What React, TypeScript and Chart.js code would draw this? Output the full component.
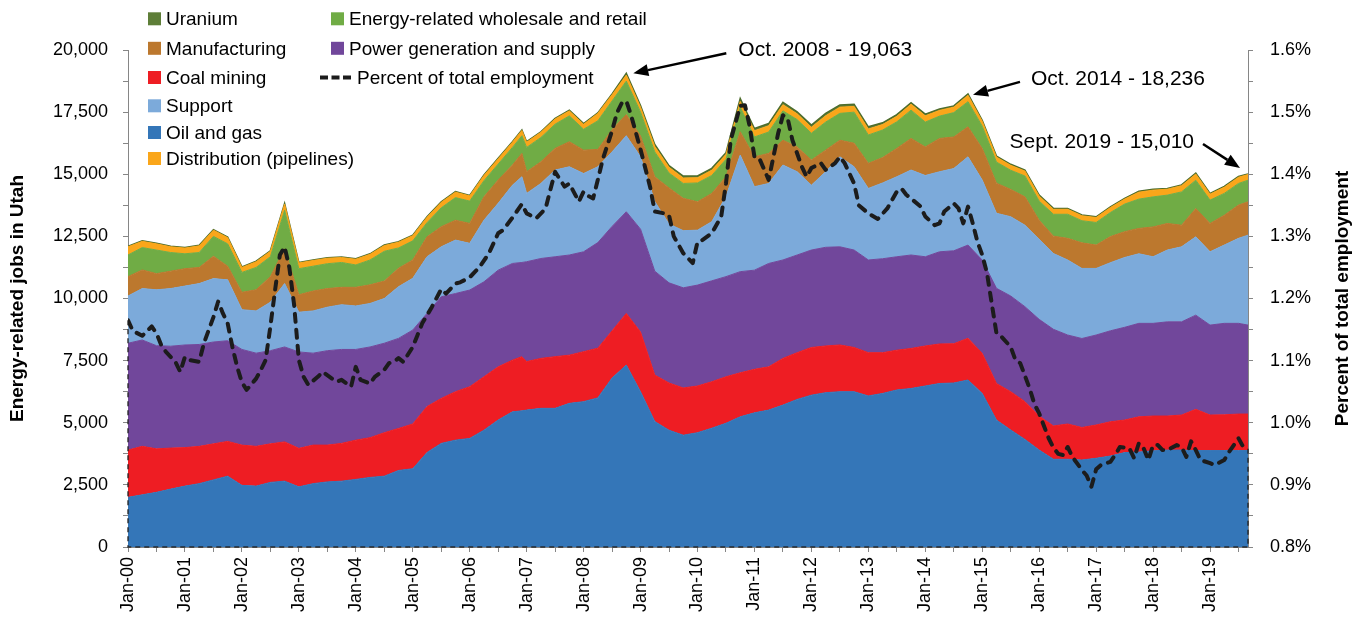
import React, { useEffect, useRef } from "react";
import { Chart, registerables } from "chart.js";

Chart.register(...registerables);

const FONT = '"Liberation Sans", Arial, sans-serif';

// Month index: 0 = Jan 2000, 236 = Sept 2019
const months = [
  0, 3, 6, 9, 12, 15, 18, 21, 24, 27, 30, 33, 36, 39, 42, 45, 48, 51, 54, 57,
  60, 63, 66, 69, 72, 75, 78, 81, 83, 84,
  87, 90, 93, 96, 99, 102, 105, 108, 111, 114,
  117, 120, 123, 126, 129, 132, 135, 138, 141, 144,
  147, 150, 153, 156, 159, 162, 165, 168, 171, 174,
  177, 180, 183, 186, 189, 192, 195, 198, 201, 204,
  207, 210, 213, 216, 219, 222, 225, 228, 231, 234,
  236,
];

const oilGas = [
  2000, 2100, 2200, 2330, 2450, 2550, 2700, 2850, 2480, 2450, 2600, 2650, 2420, 2550, 2620, 2650, 2720, 2800, 2850, 3080,
  3150, 3800, 4170, 4300, 4370, 4700, 5110, 5440, 5480, 5510,
  5580, 5580, 5780, 5850, 6000, 6800, 7320, 6250, 5050, 4700,
  4500, 4600, 4780, 4980, 5240, 5400, 5510, 5710, 5940, 6110,
  6210, 6250, 6250, 6080, 6180, 6320, 6380, 6480, 6580, 6600,
  6720, 6180, 5110, 4710, 4330, 3900, 3530, 3530, 3500, 3570,
  3660, 3800, 3820, 3870, 3900, 3900, 3880, 3880, 3880, 3880,
  3880,
];

const coalMining = [
  1900, 1950, 1750, 1650, 1550, 1500, 1450, 1400, 1620, 1600, 1550, 1580, 1550, 1550, 1480, 1520, 1580, 1600, 1750, 1690,
  1800, 1850, 1810, 1950, 2080, 2150, 2140, 2080, 2180, 1950,
  2010, 2080, 1940, 2010, 2000, 1900, 2080, 2400, 1870, 1900,
  1900, 1880, 1870, 1870, 1770, 1750, 1740, 1880, 1880, 1920,
  1880, 1880, 1780, 1740, 1640, 1600, 1610, 1610, 1590, 1580,
  1680, 1610, 1470, 1540, 1520, 1370, 1340, 1420, 1310, 1340,
  1380, 1310, 1420, 1400, 1370, 1410, 1660, 1430, 1440, 1470,
  1470,
];

const powerGeneration = [
  4300, 4280, 4150, 4100, 4130, 4100, 4100, 4050, 3850, 3750, 3750, 3820, 3880, 3700, 3800, 3780, 3650, 3650, 3600, 3625,
  3780, 3750, 4090, 3950, 3890, 3820, 3890, 3890, 3790, 4020,
  4020, 4020, 4030, 4020, 4250, 4200, 4090, 4140, 4180, 4030,
  4030, 4060, 4060, 4030, 4070, 3990, 4160, 3960, 3930, 3920,
  3970, 3950, 3920, 3730, 3780, 3760, 3760, 3590, 3710, 3740,
  3750, 3755, 3830, 3850, 3820, 3890, 3890, 3580, 3580, 3620,
  3660, 3730, 3760, 3730, 3790, 3750, 3790, 3620, 3680, 3650,
  3580,
];

const supportJobs = [
  1900, 2070, 2250, 2320, 2370, 2450, 2550, 2450, 1600, 1700, 1950, 2550, 1600, 1700, 1750, 1800, 1750, 1750, 1800, 2080,
  2080, 2280, 2010, 2150, 1880, 2480, 2690, 3150, 3450, 2750,
  3020, 3490, 3550, 3150, 3050, 3000, 3060, 2910, 2800, 2370,
  2300, 2210, 2380, 3220, 4690, 3360, 3220, 3820, 3350, 2610,
  3040, 3620, 3350, 2880, 3050, 3220, 3420, 3270, 3220, 3310,
  3550, 3220, 3020, 3190, 3280, 3220, 3050, 3020, 2820, 2680,
  2740, 2810, 2800, 2680, 2890, 3020, 3150, 2950, 3150, 3420,
  3620,
];

const manufacturing = [
  780, 750, 650, 700, 700, 650, 900, 550, 700, 850, 1030, 1400, 700, 800, 750, 700, 750, 750, 700, 740,
  740, 800, 810, 800, 800, 940, 940, 810, 940, 870,
  870, 870, 1010, 940, 700, 900, 850, 840, 1000, 1450,
  1300, 1140, 1140, 800, 940, 1200, 1210, 1000, 1000, 1010,
  870, 670, 950, 1010, 1020, 1140, 1270, 1150, 1340, 1270,
  1210, 1270, 1210, 1100, 1140, 770, 700, 870, 1030, 940,
  1050, 1040, 1020, 1200, 1070, 870, 1140, 1140, 1200, 1340,
  1340,
];

const wholesaleRetail = [
  870, 900, 950, 750, 600, 600, 800, 900, 800, 900, 800, 1550, 1050, 1000, 1000, 1000, 900, 1000, 1200, 820,
  770, 570, 760, 910, 900, 650, 640, 710, 710, 980,
  980, 975, 1040, 840, 1150, 1150, 1350, 960, 1000, 600,
  600, 760, 720, 700, 990, 800, 860, 1180, 1100, 1080,
  1130, 1080, 1250, 1140, 1110, 1070, 1140, 1000, 900, 980,
  1010, 900, 850, 770, 840, 770, 880, 970, 890, 910,
  970, 1110, 1180, 1210, 1140, 1340, 1140, 940, 880, 870,
  870,
];

const distribution = [
  330, 250, 250, 230, 230, 270, 250, 250, 200, 230, 220, 250, 230, 230, 220, 200, 230, 230, 230, 230,
  210, 220, 220, 220, 210, 210, 210, 210, 210, 210,
  210, 210, 200, 200, 300, 250, 240, 200, 220, 230,
  220, 210, 210, 200, 230, 250, 250, 250, 230, 240,
  250, 250, 230, 240, 220, 220, 240, 250, 230, 220,
  260, 200, 200, 200, 200, 200, 200, 200, 200, 200,
  200, 200, 280, 270, 240, 250, 250, 240, 250, 250,
  230,
];

const uranium = [
  20, 20, 20, 20, 20, 20, 20, 20, 20, 20, 20, 30, 20, 20, 20, 20, 20, 20, 20, 20,
  20, 20, 20, 20, 20, 20, 20, 20, 20, 20,
  20, 20, 30, 30, 20, 30, 73, 70, 80, 70,
  80, 70, 80, 70, 120, 90, 90, 100, 80, 90,
  100, 90, 90, 90, 70, 70, 60, 70, 60, 50,
  56, 40, 40, 40, 40, 40, 35, 35, 30, 30,
  30, 30, 40, 40, 30, 30, 40, 30, 30, 30,
  20,
];

// Percent of total employment (right axis)
const pctMonths = [
  0, 1, 3, 5, 6, 7, 8, 10, 11, 12, 13, 15, 16, 18, 19, 20, 21, 22, 23, 24,
  25, 27, 28, 29, 30, 31, 32, 33, 34, 35, 36, 37, 38, 40, 41, 43, 44, 45, 47, 48,
  49, 51, 52, 54, 55, 56, 57, 58, 60, 61, 62, 64, 66, 67, 69, 70, 72, 74, 76, 78,
  79, 81, 83, 84, 86, 88, 89, 90, 91, 92, 93, 95, 96, 97, 98, 99, 100, 102, 103, 104,
  105, 106, 108, 110, 111, 113, 114, 115, 117, 119, 120, 121, 123, 125, 126, 127, 129, 130, 131, 132,
  133, 135, 136, 137, 138, 139, 140, 142, 143, 144, 146, 147, 149, 150, 151, 153, 154, 156, 158, 160,
  162, 163, 164, 165, 167, 168, 170, 171, 172, 174, 175, 176, 177, 178, 179, 180, 181, 182, 183, 184,
  186, 187, 188, 190, 191, 192, 194, 195, 196, 197, 198, 199, 201, 202, 203, 204, 205, 207, 208, 209,
  210, 211, 212, 213, 214, 215, 216, 217, 218, 219, 221, 222, 223, 224, 225, 226, 228, 229, 231, 232,
  234, 235, 236,
];

const pctValues = [
  1.165, 1.148, 1.14, 1.155, 1.144, 1.125, 1.114, 1.098, 1.082, 1.106, 1.101, 1.098, 1.128, 1.17, 1.195, 1.176, 1.16, 1.122, 1.09, 1.065,
  1.053, 1.071, 1.085, 1.101, 1.155, 1.214, 1.27, 1.283, 1.25, 1.19, 1.101, 1.074, 1.061, 1.074, 1.082, 1.071, 1.066, 1.069, 1.058, 1.09,
  1.069, 1.063, 1.074, 1.085, 1.096, 1.098, 1.104, 1.098, 1.122, 1.141, 1.16, 1.186, 1.215, 1.208, 1.224, 1.226, 1.234, 1.25, 1.272, 1.305,
  1.31, 1.33, 1.352, 1.337, 1.329, 1.345, 1.375, 1.404, 1.392, 1.38, 1.385, 1.356, 1.372, 1.365, 1.361, 1.391, 1.423, 1.47, 1.498, 1.514,
  1.518, 1.495, 1.44, 1.38, 1.34, 1.337, 1.334, 1.3, 1.273, 1.257, 1.291, 1.294, 1.305, 1.332, 1.385, 1.455, 1.51, 1.511, 1.477, 1.428,
  1.426, 1.391, 1.428, 1.466, 1.495, 1.49, 1.455, 1.412, 1.396, 1.41, 1.418, 1.407, 1.418, 1.428, 1.418, 1.385, 1.35, 1.337, 1.328, 1.345,
  1.372, 1.377, 1.367, 1.361, 1.348, 1.332, 1.318, 1.321, 1.34, 1.353, 1.345, 1.321, 1.348, 1.321, 1.291, 1.27, 1.241, 1.192, 1.144, 1.139,
  1.122, 1.101, 1.096, 1.055, 1.03, 1.015, 0.975, 0.96, 0.95, 0.948, 0.961, 0.945, 0.924, 0.915, 0.897, 0.925, 0.932, 0.937, 0.948, 0.961,
  0.96, 0.959, 0.943, 0.967, 0.959, 0.94, 0.964, 0.964, 0.956, 0.956, 0.964, 0.961, 0.945, 0.97, 0.956, 0.94, 0.935, 0.932, 0.94, 0.953,
  0.975, 0.961, 0.958,
];

const yearLabels = [
  "Jan-00", "Jan-01", "Jan-02", "Jan-03", "Jan-04", "Jan-05", "Jan-06", "Jan-07", "Jan-08", "Jan-09",
  "Jan-10", "Jan-11", "Jan-12", "Jan-13", "Jan-14", "Jan-15", "Jan-16", "Jan-17", "Jan-18", "Jan-19",
];

const annotationMonths = [105, 177, 236];
const annotationValues = [19063, 18236, 15010];
const annotationTexts = ["Oct. 2008 - 19,063", "Oct. 2014 - 18,236", "Sept. 2019 - 15,010"];

const COLORS = {
  oil: "#3476B8",
  coal: "#EE1D23",
  power: "#71479B",
  support: "#7CAADA",
  manuf: "#BC782E",
  wholesale: "#70AC45",
  dist: "#FAA61A",
  uranium: "#5E7E38",
  axis: "#868686",
};

const PCT_DASH = [8, 8];

// layout of annotations (offsets relative to the data point pixel)
const annotationLayout = [
  { tip: [7, 0], tail: [100, -20], text: [112, -23], align: "left" as CanvasTextAlign },
  { tip: [5, 1], tail: [52, -12], text: [63, -15], align: "left" as CanvasTextAlign },
  { tip: [-8, -6], tail: [-45, -30], text: [-54, -32], align: "right" as CanvasTextAlign },
];

// legend layout: dataset index per column/row
const legendCols = [
  { x: 148, items: [7, 4, 1, 3, 0, 6] },
  { x: 331, items: [5, 2, 8] },
];
const legendRows = [18.8, 48.3, 77.5, 105.8, 132.5, 158.5];

function drawArrow(ctx: CanvasRenderingContext2D, x0: number, y0: number, x1: number, y1: number) {
  const ang = Math.atan2(y1 - y0, x1 - x0);
  const head = 15;
  const half = 6;
  const bx = x1 - head * Math.cos(ang);
  const by = y1 - head * Math.sin(ang);
  ctx.beginPath();
  ctx.moveTo(x0, y0);
  ctx.lineTo(bx, by);
  ctx.lineWidth = 2.5;
  ctx.stroke();
  ctx.beginPath();
  ctx.moveTo(x1, y1);
  ctx.lineTo(bx - half * Math.sin(ang), by + half * Math.cos(ang));
  ctx.lineTo(bx + half * Math.sin(ang), by - half * Math.cos(ang));
  ctx.closePath();
  ctx.fill();
}

const overlayPlugin = {
  id: "overlays",
  afterDatasetsDraw(chart: any) {
    const { ctx, scales } = chart;
    const xs = scales.x;
    const y1 = scales.y1;
    const pts = chart.data.datasets[8].data;
    const first = pts[0];
    const last = pts[pts.length - 1];
    const xa = xs.getPixelForValue(first.x);
    const ya = y1.getPixelForValue(first.y);
    const xb = xs.getPixelForValue(last.x);
    const yb = y1.getPixelForValue(last.y);
    const base = y1.getPixelForValue(y1.min);
    ctx.save();
    ctx.strokeStyle = "rgba(30,30,30,0.85)";
    ctx.lineWidth = 1.5;
    ctx.setLineDash([5, 4]);
    ctx.beginPath();
    ctx.moveTo(xa, ya);
    ctx.lineTo(xa, base);
    ctx.lineTo(xb, base);
    ctx.lineTo(xb, yb);
    ctx.stroke();
    ctx.restore();
  },
  afterDraw(chart: any) {
    const { ctx, scales, chartArea } = chart;
    const xs = scales.x;
    const ys = scales.y;
    ctx.save();

    // legend
    ctx.font = `19px ${FONT}`;
    ctx.textBaseline = "middle";
    ctx.textAlign = "left";
    legendCols.forEach((col) => {
      col.items.forEach((dsIndex, r) => {
        const ds = chart.data.datasets[dsIndex];
        const yc = legendRows[r];
        if (dsIndex === 8) {
          ctx.save();
          ctx.strokeStyle = ds.borderColor;
          ctx.lineWidth = 4;
          ctx.setLineDash([8, 3.5]);
          ctx.beginPath();
          ctx.moveTo(col.x - 11, yc);
          ctx.lineTo(col.x + 20, yc);
          ctx.stroke();
          ctx.restore();
          ctx.fillStyle = "#000";
          ctx.fillText(ds.label, col.x + 26, yc + 1);
        } else {
          ctx.fillStyle = ds.backgroundColor;
          ctx.fillRect(col.x, yc - 6.5, 13, 13);
          ctx.fillStyle = "#000";
          ctx.fillText(ds.label, col.x + 18, yc + 1);
        }
      });
    });

    // annotations
    ctx.font = `21px ${FONT}`;
    ctx.fillStyle = "#000";
    ctx.strokeStyle = "#000";
    annotationMonths.forEach((m, i) => {
      const px = xs.getPixelForValue(m);
      const py = ys.getPixelForValue(annotationValues[i]);
      const L = annotationLayout[i];
      drawArrow(ctx, px + L.tail[0], py + L.tail[1], px + L.tip[0], py + L.tip[1]);
      ctx.textAlign = L.align;
      ctx.textBaseline = "middle";
      ctx.fillText(annotationTexts[i], px + L.text[0], py + L.text[1]);
    });

    // axis titles
    ctx.font = `bold 19px ${FONT}`;
    ctx.textAlign = "center";
    ctx.textBaseline = "middle";
    const midY = (chartArea.top + chartArea.bottom) / 2;
    ctx.save();
    ctx.translate(18, midY);
    ctx.rotate(-Math.PI / 2);
    ctx.fillText("Energy-related jobs in Utah", 0, 0);
    ctx.restore();
    ctx.save();
    ctx.translate(1343, midY);
    ctx.rotate(-Math.PI / 2);
    ctx.fillText("Percent of total employment", 0, 0);
    ctx.restore();

    ctx.restore();
  },
};

function series(label: string, values: number[], color: string, fill: any, border?: string, bw = 1) {
  return {
    label,
    data: months.map((m, i) => ({ x: m, y: values[i] })),
    backgroundColor: color,
    borderColor: border || color,
    borderWidth: bw,
    fill,
    pointRadius: 0,
    tension: 0,
    yAxisID: "y",
    stack: "jobs",
  };
}

export default function App() {
  const ref = useRef<HTMLCanvasElement | null>(null);

  useEffect(() => {
    if (!ref.current) return;
    const tickMonths = yearLabels.flatMap((_, i) => [i * 12, i * 12 + 6]);
    const leftTicks: number[] = [];
    for (let v = 0; v <= 20000; v += 1250) leftTicks.push(v);
    const rightTicks: number[] = [];
    for (let v = 80; v <= 160; v += 5) rightTicks.push(v / 100);

    const datasets: any[] = [
      series("Oil and gas", oilGas, COLORS.oil, "origin"),
      series("Coal mining", coalMining, COLORS.coal, "-1"),
      series("Power generation and supply", powerGeneration, COLORS.power, "-1"),
      series("Support", supportJobs, COLORS.support, "-1"),
      series("Manufacturing", manufacturing, COLORS.manuf, "-1"),
      series("Energy-related wholesale and retail", wholesaleRetail, COLORS.wholesale, "-1"),
      series("Distribution (pipelines)", distribution, COLORS.dist, "-1"),
      series("Uranium", uranium, COLORS.uranium, "-1", "#4E6D2C", 1.5),
      {
        label: "Percent of total employment",
        data: pctMonths.map((m, i) => ({ x: m, y: pctValues[i] })),
        yAxisID: "y1",
        borderColor: "#1c1c1c",
        backgroundColor: "#1c1c1c",
        borderWidth: 4,
        borderDash: PCT_DASH,
        borderCapStyle: "round",
        borderJoinStyle: "round",
        fill: false,
        pointRadius: 0,
        tension: 0,
        order: -1,
      },
    ];

    const tickFont = { family: FONT, size: 18 };

    const chart = new Chart(ref.current, {
      type: "line",
      data: { datasets },
      plugins: [overlayPlugin],
      options: {
        responsive: false,
        animation: false,
        devicePixelRatio: 1,
        events: [],
        layout: { padding: { top: 50, left: 0, right: 0, bottom: 0 } },
        plugins: {
          legend: { display: false },
          tooltip: { enabled: false },
          title: { display: false },
        },
        scales: {
          x: {
            type: "linear",
            min: 0,
            max: 236,
            bounds: "data",
            afterBuildTicks: (s: any) => {
              s.ticks = tickMonths.map((v) => ({ value: v }));
            },
            afterFit: (s: any) => {
              s.height = 76;
            },
            ticks: {
              autoSkip: false,
              minRotation: 90,
              maxRotation: 90,
              padding: 5,
              color: "#000",
              font: tickFont,
              callback: (v: any) => (Number(v) % 12 === 0 ? yearLabels[Number(v) / 12] : ""),
            },
            grid: { drawOnChartArea: false, drawTicks: true, tickLength: 5, color: COLORS.axis },
            border: { display: true, color: COLORS.axis, width: 1 },
          },
          y: {
            type: "linear",
            position: "left",
            stacked: true,
            min: 0,
            max: 20000,
            afterBuildTicks: (s: any) => {
              s.ticks = leftTicks.map((v) => ({ value: v }));
            },
            afterFit: (s: any) => {
              s.width = 128;
            },
            ticks: {
              padding: 15,
              color: "#000",
              font: tickFont,
              callback: (v: any) => (Number(v) % 2500 === 0 ? Number(v).toLocaleString("en-US") : ""),
            },
            grid: { drawOnChartArea: false, drawTicks: true, tickLength: 5, color: COLORS.axis },
            border: { display: true, color: COLORS.axis, width: 1 },
          },
          y1: {
            type: "linear",
            position: "right",
            stacked: false,
            min: 0.8,
            max: 1.6,
            afterBuildTicks: (s: any) => {
              s.ticks = rightTicks.map((v) => ({ value: v }));
            },
            afterFit: (s: any) => {
              s.width = 113;
            },
            ticks: {
              padding: 17,
              color: "#000",
              font: tickFont,
              callback: (v: any) => {
                const k = Math.round(Number(v) * 100);
                return k % 10 === 0 ? (k / 100).toFixed(1) + "%" : "";
              },
            },
            grid: { drawOnChartArea: false, drawTicks: true, tickLength: 5, color: COLORS.axis },
            border: { display: true, color: COLORS.axis, width: 1 },
          },
        },
      } as any,
    });
    return () => chart.destroy();
  }, []);

  return (
    <div style={{ position: "absolute", left: 0, top: 0, width: 1361, height: 623, background: "#fff" }}>
      <canvas ref={ref} width={1361} height={623} style={{ display: "block", width: 1361, height: 623 }} />
    </div>
  );
}
